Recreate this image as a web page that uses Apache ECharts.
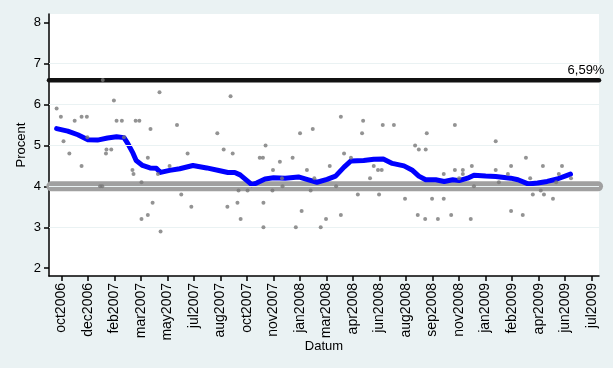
<!DOCTYPE html>
<html><head><meta charset="utf-8">
<script src="https://cdn.jsdelivr.net/npm/echarts@6/dist/echarts.min.js"></script>
<style>html,body{margin:0;padding:0;background:#EAF2F3}#c{width:613px;height:368px}</style>
</head><body><div id="c"></div>
<script>
// x values: days since 26 Oct 2006 (the first axis tick)
const tickDays = [0,50,100,150,200,250,300,350,400,450,500,550,600,650,700,750,800,850,900,950,1000];
const tickLabels = ['oct2006','dec2006','feb2007','mar2007','may2007','jul2007','aug2007','oct2007','nov2007','jan2008','mar2008','apr2008','jun2008','aug2008','sep2008','nov2008','jan2009','feb2009','apr2009','jun2009','jul2009'];
const yTicks = [2,3,4,5,6,7,8];
const gridValues = [3,4,5,6,7];

const pollDays = [-9,-1,4,15,25,38,48,38,49,73,77,78,84,85,94,99,104,114,118,134,136,140,147,151,151,163,163,168,172,182,185,187,204,218,226,238,245,294,306,313,319,323,332,334,338,351,374,380,381,381,385,398,399,412,416,417,436,442,450,453,463,470,474,477,489,499,506,518,527,527,533,546,559,567,569,582,589,597,599,604,606,627,648,667,672,674,686,687,689,699,710,721,721,735,742,742,750,757,757,772,774,778,819,819,825,842,848,848,870,876,884,889,904,908,910,927,933,938,944,961];
const pollValues = [5.9,5.7,5.1,4.8,5.6,5.7,5.7,4.5,5.2,4.0,4.0,6.6,4.8,4.9,4.9,6.1,5.6,5.6,5.2,4.4,4.3,5.6,5.6,4.1,3.2,4.7,3.3,5.4,3.6,4.3,6.3,2.9,4.5,5.5,3.8,4.8,3.5,5.3,4.9,3.5,6.2,4.8,3.6,3.9,3.2,3.9,4.7,4.7,3.6,3.0,5.0,3.9,4.4,4.6,4.2,4.0,4.7,3.0,5.3,3.4,4.4,3.9,5.4,4.2,3.0,3.2,4.5,4.0,5.7,3.3,4.8,4.7,3.8,5.3,5.6,4.2,4.5,4.4,3.8,4.4,5.5,5.5,3.7,5.0,3.3,4.9,3.2,4.9,5.3,3.7,3.2,4.3,3.7,3.3,5.5,4.4,4.2,4.4,4.3,3.2,4.5,4.0,5.1,4.4,4.1,4.3,4.5,3.4,3.3,4.7,4.2,3.8,3.9,4.5,3.8,3.7,4.1,4.3,4.5,4.2];

const trendDays = [-9,12,31,50,68,87,104,118,125,135,141,153,167,179,187,204,223,248,274,299,314,327,337,350,359,368,384,400,422,447,466,482,501,517,533,546,570,589,607,624,646,661,674,687,706,722,738,750,766,778,800,819,847,861,880,898,916,935,960];
const trendValues = [5.41,5.35,5.26,5.14,5.13,5.18,5.21,5.19,5.05,4.81,4.63,4.51,4.45,4.44,4.34,4.39,4.43,4.51,4.45,4.38,4.34,4.34,4.28,4.14,4.04,4.08,4.18,4.21,4.20,4.23,4.16,4.10,4.17,4.25,4.47,4.62,4.63,4.66,4.67,4.56,4.50,4.40,4.25,4.16,4.16,4.12,4.16,4.14,4.20,4.27,4.25,4.24,4.20,4.16,4.06,4.08,4.12,4.18,4.30];

const refLevel = 6.59;
const baseLevel = 4.0;
const xMin = -23.4, xMax = 1013.8;
const yMin = 1.81, yMax = 8.21;
const refLineDays = [xMin, xMax];
const baseLineDays = [-19, 1012];

const font = 'Liberation Sans, Arial, sans-serif';
const chart = echarts.init(document.getElementById('c'), null, {renderer:'canvas'});
chart.setOption({
  backgroundColor: '#EAF2F3',
  animation: false,
  grid: {left:49, right:14, top:14, bottom:92, show:true, backgroundColor:'#FFFFFF', borderWidth:0},
  xAxis: {
    type:'value', min:xMin, max:xMax,
    axisLine:{show:true, onZero:false, lineStyle:{color:'#000', width:1.5}},
    axisTick:{show:true, length:5, customValues:tickDays, lineStyle:{color:'#000', width:1.5}},
    axisLabel:{customValues:tickDays, rotate:90, margin:7, fontSize:14, color:'#000', fontFamily:font,
      formatter: v => { const i = tickDays.indexOf(Math.round(v)); return i>=0 ? tickLabels[i] : ''; }},
    splitLine:{show:false},
    name:'Datum', nameLocation:'middle', nameGap:64, nameMoveOverlap:false,
    nameTextStyle:{fontSize:13, color:'#000', fontFamily:font}
  },
  yAxis: {
    type:'value', min:yMin, max:yMax,
    axisLine:{show:true, onZero:false, lineStyle:{color:'#000', width:1.5}},
    axisTick:{show:true, length:5, customValues:yTicks, lineStyle:{color:'#000', width:1.5}},
    axisLabel:{customValues:yTicks, margin:8, fontSize:13, color:'#000', fontFamily:font},
    splitLine:{show:false},
    name:'Procent', nameLocation:'middle', nameGap:21, nameRotate:90, nameMoveOverlap:false,
    nameTextStyle:{fontSize:13, color:'#000', fontFamily:font}
  },
  series: [
    { type:'line', data:[], silent:true, z:1,
      markLine:{silent:true, symbol:'none', label:{show:false}, lineStyle:{color:'#EAF2F3', width:1, type:'solid'},
        data: gridValues.map(v => ({yAxis:v}))} },
    { type:'line', data: baseLineDays.map(d => [d, baseLevel]), clip:false, showSymbol:false, silent:true, z:2,
      lineStyle:{color:'#A0A0A0', width:10, cap:'round'} },
    { type:'line', data: refLineDays.map(d => [d, refLevel]), clip:false, symbol:'circle', symbolSize:0, showSymbol:true, silent:true, z:3,
      itemStyle:{color:'#111111'},
      lineStyle:{color:'#111111', width:4.5, cap:'round'},
      label:{show:true, position:'top', distance:3, offset:[-13,0], fontSize:13, color:'#000', fontFamily:font,
        formatter: p => p.dataIndex === 1 ? refLevel.toFixed(2).replace('.', ',') + '%' : ''} },
    { type:'line', data: trendDays.map((d,i) => [d, trendValues[i]]), showSymbol:false, silent:true, z:4,
      lineStyle:{color:'#0000FF', width:5, cap:'round', join:'round'} },
    { type:'scatter', data: pollDays.map((d,i) => [d, pollValues[i]]), symbol:'circle', symbolSize:4, silent:true, z:5,
      itemStyle:{color:'#787878'} }
  ]
});
</script></body></html>
